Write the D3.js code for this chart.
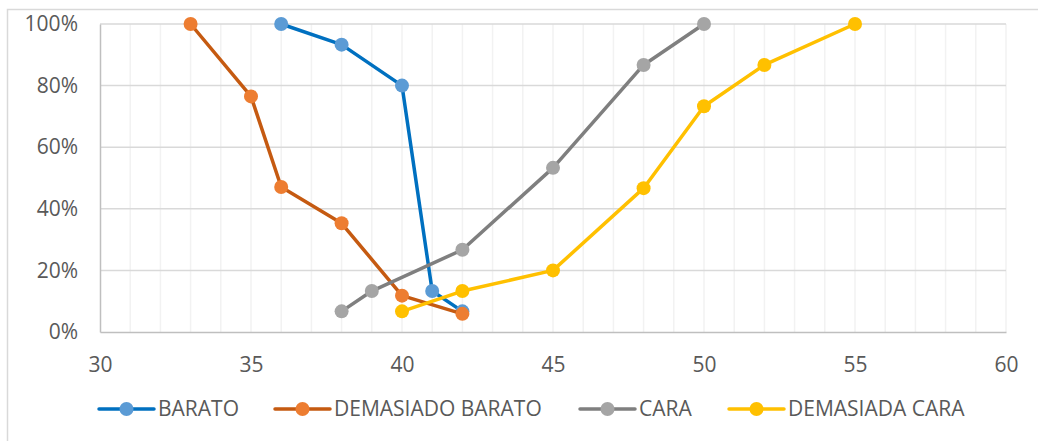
<!doctype html>
<html>
<head>
<script src="https://d3js.org/d3.v7.min.js"></script>
<style>
  body { margin: 0; background: #fff; }
  text { font-family: "Open Sans", sans-serif; fill: #595959; }
</style>
</head>
<body>
<svg width="1038" height="441"></svg>
<script>
  // data (x = price, y = cumulative %)
  var names = ["BARATO", "DEMASIADO BARATO", "CARA", "DEMASIADA CARA"];
  var baratoX = [36, 38, 40, 41, 42];
  var baratoY = [100, 93.3, 80, 13.3, 6.7];
  var demBaratoX = [33, 35, 36, 38, 40, 42];
  var demBaratoY = [100, 76.5, 47.1, 35.3, 11.8, 5.9];
  var caraX = [38, 39, 42, 45, 48, 50];
  var caraY = [6.7, 13.3, 26.7, 53.3, 86.7, 100];
  var demCaraX = [40, 42, 45, 48, 50, 52, 55];
  var demCaraY = [6.7, 13.3, 20, 46.7, 73.3, 86.7, 100];
  var xTicks = [30, 35, 40, 45, 50, 55, 60];
  var yTicks = [0, 20, 40, 60, 80, 100];

  var lineColors = ["#0070c0", "#c55a11", "#7f7f7f", "#ffc000"];
  var dotColors = ["#5b9bd5", "#ed7d31", "#a5a5a5", "#ffc000"];

  var series = [
    {name: names[0], x: baratoX, y: baratoY},
    {name: names[1], x: demBaratoX, y: demBaratoY},
    {name: names[2], x: caraX, y: caraY},
    {name: names[3], x: demCaraX, y: demCaraY}
  ];

  var svg = d3.select("svg");

  // chart border
  svg.append("rect")
    .attr("x", 7.5).attr("y", 9.5)
    .attr("width", 1040).attr("height", 440)
    .attr("fill", "none").attr("stroke", "#d9d9d9").attr("stroke-width", 1.5);

  var x = d3.scaleLinear().domain([30, 60]).range([100, 1006]);
  var y = d3.scaleLinear().domain([0, 100]).range([332, 24]);

  // minor vertical gridlines every unit
  svg.append("g").selectAll("line")
    .data(d3.range(31, 61))
    .enter().append("line")
    .attr("x1", d => x(d)).attr("x2", d => x(d))
    .attr("y1", y(0)).attr("y2", y(100))
    .attr("stroke", "#f2f2f2").attr("stroke-width", 1.5);

  // horizontal gridlines
  svg.append("g").selectAll("line")
    .data(yTicks.slice(1))
    .enter().append("line")
    .attr("x1", x(30)).attr("x2", x(60))
    .attr("y1", d => y(d)).attr("y2", d => y(d))
    .attr("stroke", "#d9d9d9").attr("stroke-width", 1.5);

  // axes
  var xAxis = svg.append("g")
    .attr("transform", "translate(0," + y(0) + ")")
    .call(d3.axisBottom(x).tickValues(xTicks).tickSize(0).tickPadding(25));
  xAxis.select(".domain").attr("stroke", "#bfbfbf").attr("stroke-width", 1.5);
  xAxis.selectAll("text").style("font-size", "21px").attr("fill", "#595959");

  var yAxis = svg.append("g")
    .attr("transform", "translate(" + x(30) + ",0)")
    .call(d3.axisLeft(y).tickValues(yTicks).tickSize(0).tickPadding(22).tickFormat(d => d + "%"));
  yAxis.select(".domain").attr("stroke", "#bfbfbf").attr("stroke-width", 1.5);
  yAxis.selectAll("text").style("font-size", "21px").attr("fill", "#595959");

  var line = d3.line().x(d => x(d[0])).y(d => y(d[1]));

  series.forEach(function(s, i) {
    var pts = s.x.map((v, j) => [v, s.y[j]]);
    svg.append("path")
      .datum(pts)
      .attr("d", line)
      .attr("fill", "none")
      .attr("stroke", lineColors[i])
      .attr("stroke-width", 3.5)
      .attr("stroke-linejoin", "round")
      .attr("stroke-linecap", "round");
    svg.append("g").selectAll("circle")
      .data(pts)
      .enter().append("circle")
      .attr("cx", d => x(d[0])).attr("cy", d => y(d[1]))
      .attr("r", 7)
      .attr("fill", dotColors[i]);
  });

  // legend
  var legendX = [99, 275, 580, 729];
  var legend = svg.append("g");
  series.forEach(function(s, i) {
    var g = legend.append("g").attr("transform", "translate(" + legendX[i] + ",409)");
    g.append("line")
      .attr("x1", 0).attr("x2", 55).attr("y1", 0).attr("y2", 0)
      .attr("stroke", lineColors[i]).attr("stroke-width", 3.5)
      .attr("stroke-linecap", "round");
    g.append("circle").attr("cx", 27.5).attr("cy", 0).attr("r", 7).attr("fill", dotColors[i]);
    g.append("text")
      .attr("x", 59).attr("y", 0).attr("dy", "0.35em")
      .style("font-size", "21px")
      .text(s.name);
  });
</script>
</body>
</html>
